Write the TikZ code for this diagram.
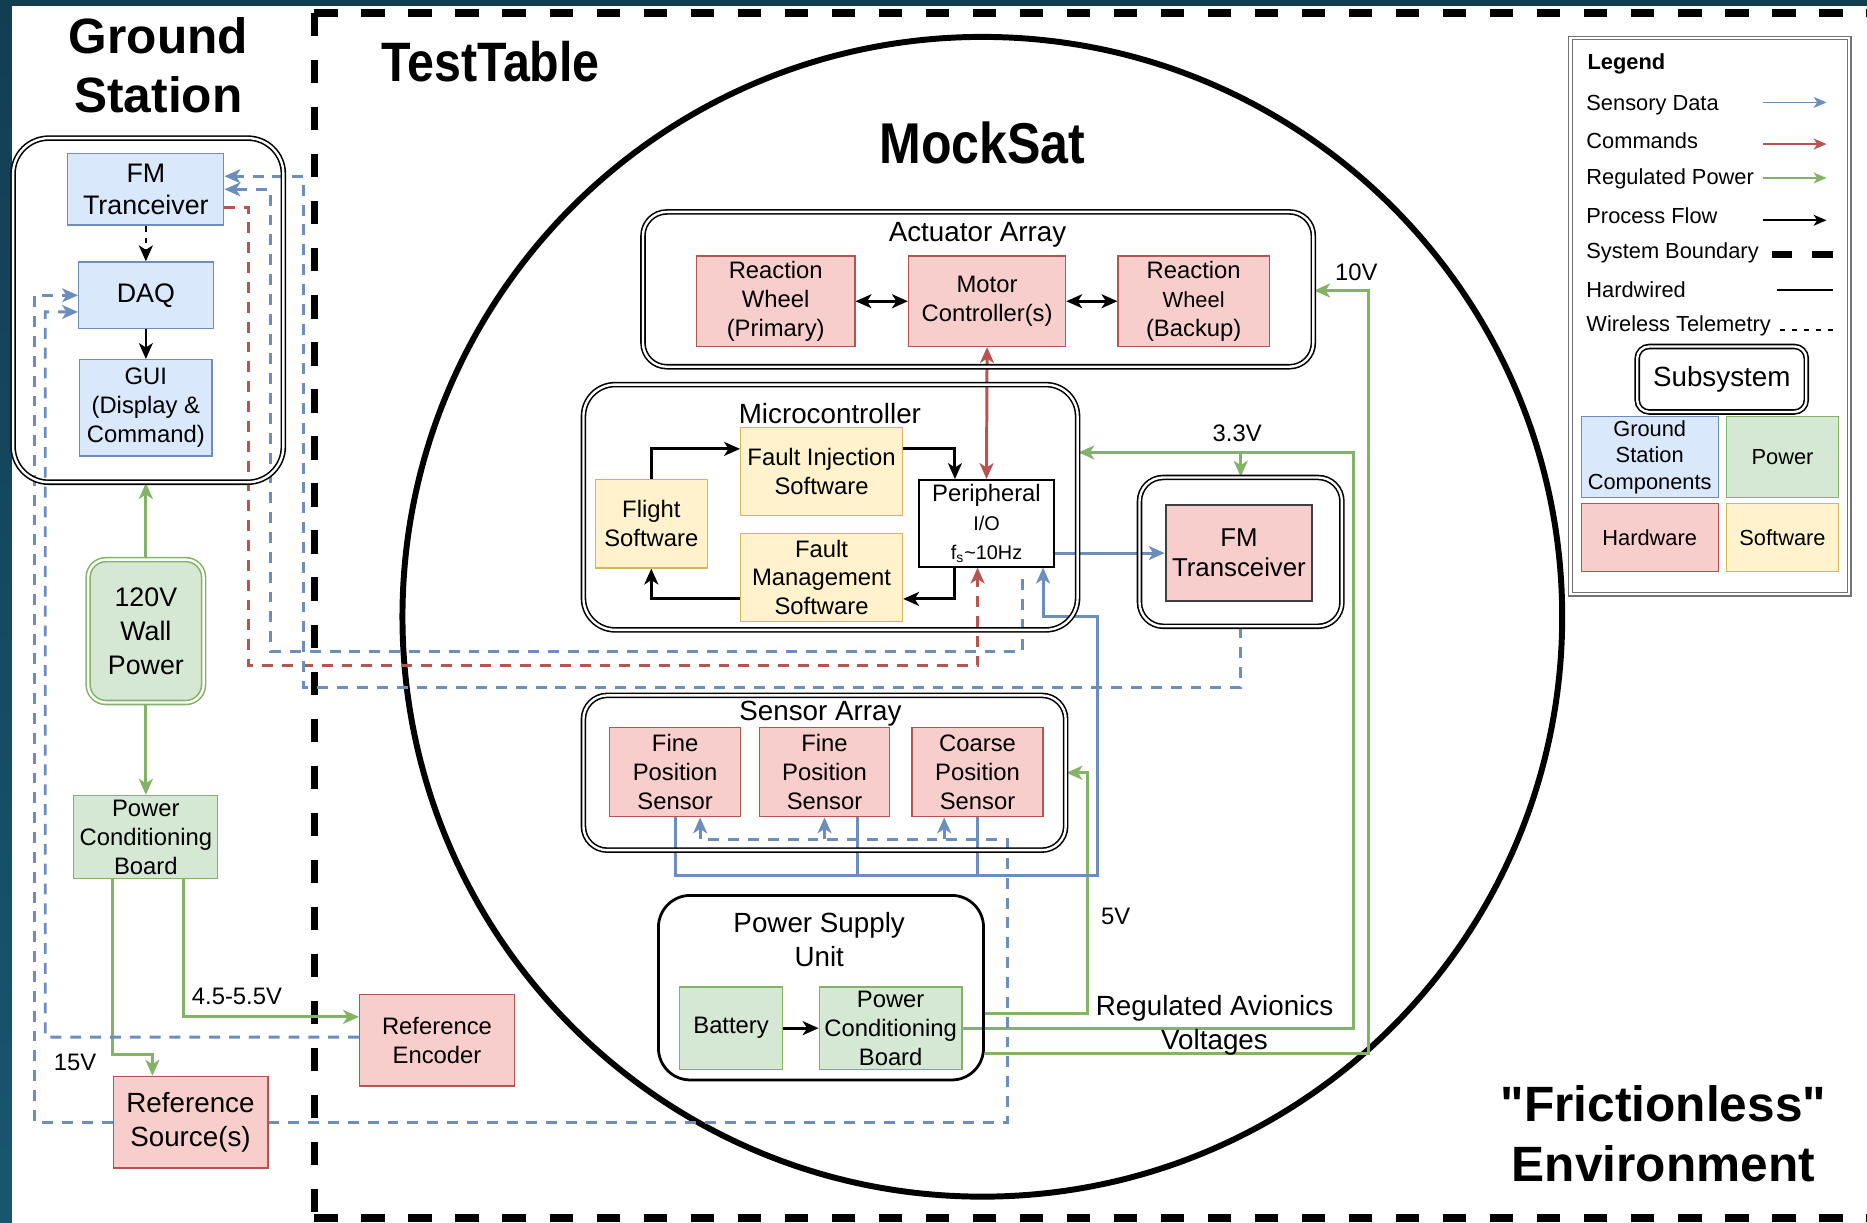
\documentclass[tikz,border=0pt]{standalone}
\usepackage{fontspec}
\setmainfont{Liberation Sans}
\newfontfamily\narrowfont[FakeStretch=0.87]{Liberation Sans}
\usetikzlibrary{arrows.meta}

\definecolor{gsfill}{HTML}{DAE8FC}
\definecolor{gsline}{HTML}{6C8EBF}
\definecolor{pwfill}{HTML}{D5E8D4}
\definecolor{pwline}{HTML}{82B366}
\definecolor{hwfill}{HTML}{F8CECC}
\definecolor{hwline}{HTML}{B85450}
\definecolor{swfill}{HTML}{FFF2CC}
\definecolor{swline}{HTML}{D6B656}
\definecolor{stripetop}{RGB}{18,62,84}
\definecolor{stripebot}{RGB}{24,86,112}

\pgfdeclarelayer{back}
\pgfdeclarelayer{wires}
\pgfsetlayers{back,wires,main}

\tikzset{
  box/.style={draw, align=center, inner sep=0.5pt, line width=0.6pt,
    font=\fontsize{12}{14.6}\selectfont},
  gsc/.style={box, fill=gsfill, draw=gsline},
  hw/.style={box, fill=hwfill, draw=hwline},
  pw/.style={box, fill=pwfill, draw=pwline},
  sw/.style={box, fill=swfill, draw=swline},
  sz/.style 2 args={minimum width=#1*0.6pt, minimum height=#2*0.6pt},
  subsys/.style={draw, line width=0.8pt, double, double distance=1.2pt,
    rounded corners=#1},
  subsys/.default=12pt,
  lbl/.style={font=\fontsize{12}{14.5}\selectfont, inner sep=0pt, align=center},
  head/.style={font=\fontsize{14}{17}\selectfont, inner sep=0pt, align=center},
  title/.style={font=\fontsize{25}{30}\selectfont\bfseries, inner sep=0pt,
    align=center},
  legtxt/.style={font=\fontsize{11}{13}\selectfont, inner sep=0pt, anchor=west},
  tip/.style={-{Stealth[length=8pt,width=7pt,inset=2.2pt]}},
  dtip/.style={{Stealth[length=8pt,width=7pt,inset=2.2pt]}-{Stealth[length=8pt,width=7pt,inset=2.2pt]}},
  wire/.style={line width=1.5pt},
  sdata/.style={wire, draw=gsline},
  cmd/.style={wire, draw=hwline},
  pwr/.style={wire, draw=pwline},
  flow/.style={wire, draw=black},
  wl/.style={dash pattern=on 5.5pt off 4.5pt},
  legline/.style={line width=0.9pt, -{Stealth[length=6.5pt,width=5.5pt,inset=1.8pt]}}
}

\begin{document}
\begin{tikzpicture}[x=0.6pt,y=-0.6pt]
\useasboundingbox (0,0) rectangle (1568,1027);

\begin{pgfonlayer}{back}
  % page and frame
  \fill[white] (0,0) rectangle (1568,1027);
  \fill[stripetop] (0,0) rectangle (1568,5);
  \shade[top color=stripetop, bottom color=stripebot] (0,0) rectangle (10,1027);
  % system boundary
  \draw[line width=3.8pt, dash pattern=on 11.7pt off 12pt] (264,11) -- (264,1023);
  \draw[line width=3.8pt, dash pattern=on 11.7pt off 12pt] (264,11) -- (1620,11);
  \draw[line width=3.8pt, dash pattern=on 11.7pt off 12pt] (264,1023) -- (1620,1023);
  % MockSat hull
  \draw[line width=3pt] (825,518) circle [radius=292.2pt];
\end{pgfonlayer}

% titles
\node[title] (gstitle) at (133,55) {Ground\\Station};
\node[font=\fontsize{28}{30}\narrowfont\bfseries, inner sep=0pt] (tttitle) at (412,52) {TestTable};
\node[font=\fontsize{29}{32}\narrowfont\bfseries, inner sep=0pt] (mstitle) at (825,120) {MockSat};
\node[title] (envtitle) at (1397,952) {\textquotedbl Frictionless\textquotedbl\\Environment};

% ground station
\node[subsys=18pt, sz={227}{289}] (gsbox) at (124.5,260.5) {};
\node[gsc, sz={131}{60}, font=\fontsize{13.5}{16.2}\selectfont] (fmgs) at (122.5,159) {FM\\Tranceiver};
\node[gsc, sz={113}{56}, font=\fontsize{13.5}{16.2}\selectfont] (daq) at (122.5,248) {DAQ};
\node[gsc, sz={111}{81}] (gui) at (122.5,342.5) {GUI\\(Display \&\\Command)};
\node[pw, sz={97}{120}, double, double distance=1.2pt, line width=0.8pt,
  rounded corners=9pt, font=\fontsize{13.5}{17}\selectfont] (wall) at (122.5,530) {120V\\Wall\\Power};
\node[pw, sz={121}{70}] (pcbgs) at (122.5,703) {Power\\Conditioning\\Board};
\node[hw, sz={130}{77}] (refenc) at (367,873.5) {Reference\\Encoder};
\node[hw, sz={130}{77}, font=\fontsize{14}{16.8}\selectfont] (refsrc) at (160,942.5) {Reference\\Source(s)};
\node[lbl] (v45lbl) at (199,837) {4.5-5.5V};
\node[lbl] (v15lbl) at (63,892) {15V};

% actuator array
\node[subsys, sz={563}{130}] (act) at (821.5,243) {};
\node[head] (actlbl) at (821,197) {Actuator Array};
\node[hw, sz={133}{76}] (rwp) at (651.5,253) {Reaction\\Wheel\\(Primary)};
\node[hw, sz={132}{76}] (mc) at (829,253) {Motor\\Controller(s)};
\node[hw, sz={127}{76}] (rwb) at (1002.5,253) {Reaction\\{\fontsize{11}{14.6}\selectfont Wheel}\\(Backup)};

% microcontroller
\node[subsys=16pt, sz={415}{206}] (micro) at (697.5,426) {};
\node[head] (microlbl) at (697,347) {Microcontroller};
\node[sw, sz={94}{74}] (fsw) at (547,440) {Flight\\Software};
\node[sw, sz={136}{74}] (fis) at (690,396) {Fault Injection\\Software};
\node[sw, sz={136}{74}] (fms) at (690,485) {Fault\\Management\\Software};
\node[box, fill=white, draw=black, line width=0.8pt, sz={113}{73}] (peri) at (828.5,439.5)
  {Peripheral\\{\fontsize{10}{12}\selectfont I/O}\\{\fontsize{10}{12}\selectfont f\textsubscript{s}\textasciitilde10Hz}};

% fm transceiver
\node[subsys, sz={170}{125}] (fmsub) at (1042,463.5) {};
\node[hw, draw=black!75, line width=1pt, sz={123}{81}, font=\fontsize{13}{15}\selectfont] (fmsat) at (1040.5,464.5) {FM\\Transceiver};

% sensor array
\node[subsys, sz={405}{130}] (sens) at (692.5,649) {};
\node[head] (senslbl) at (689,599) {Sensor Array};
\node[hw, sz={110}{75}] (fps1) at (567,648.5) {Fine\\Position\\Sensor};
\node[hw, sz={109}{75}] (fps2) at (692.5,648.5) {Fine\\Position\\Sensor};
\node[hw, sz={110}{75}] (cps) at (821,648.5) {Coarse\\Position\\Sensor};

% power supply
\node[draw, line width=1.4pt, rounded corners=16pt, sz={273}{155}] (psu) at (689.5,829.5) {};
\node[head] (psulbl) at (688,789) {Power Supply\\Unit};
\node[pw, sz={86}{69}] (bat) at (614,863.5) {Battery};
\node[pw, sz={120}{69}, inner sep=0pt] (pcbsat) at (748,863.5) {Power\\Conditioning\\Board};
\node[lbl] (v33lbl) at (1039,364) {3.3V};
\node[lbl] (v10lbl) at (1139,229) {10V};
\node[lbl] (v5lbl) at (937,770) {5V};
\node[head, font=\fontsize{14}{16.8}\selectfont] (ravlbl) at (1020,861) {Regulated Avionics\\Voltages};

% legend
\node[draw=black!55, double, double distance=1.2pt, line width=0.6pt, sz={234}{467}] (legend) at (1436,265.5) {};
\node[font=\fontsize{11}{13}\selectfont\bfseries, inner sep=0pt, anchor=west] (leghead) at (1333,54) {Legend};
\foreach \nm/\yy/\txt in {lsd/88/Sensory Data, lcm/118/Commands, lrp/150/Regulated Power,
    lpf/181/Process Flow, lsb/212/System Boundary, lhw/243/Hardwired, lwt/274/Wireless Telemetry}
  \node[legtxt] (\nm) at (1332,\yy) {\txt};
\draw[legline, draw=gsline] (1481,86) -- (1534,86);
\draw[legline, draw=hwline] (1481,121) -- (1534,121);
\draw[legline, draw=pwline] (1481,149.5) -- (1534,149.5);
\draw[legline, draw=black] (1481,185) -- (1534,185);
\draw[line width=3.6pt] (1488,214) -- (1505,214);
\draw[line width=3.6pt] (1522,214) -- (1539,214);
\draw[line width=0.9pt] (1492,243.6) -- (1539,243.6);
\draw[line width=0.8pt, dash pattern=on 2.6pt off 3.4pt] (1495,277) -- (1540,277);
\node[subsys=6pt, sz={142}{55}, font=\fontsize{14}{17}\selectfont] (legsub) at (1446,318.5) {Subsystem};
\node[gsc, sz={115}{68}, font=\fontsize{11}{13.5}\selectfont] (leggs) at (1385.5,384) {Ground\\Station\\Components};
\node[pw, sz={94}{68}, font=\fontsize{11}{13.5}\selectfont] (legpw) at (1497,384) {Power};
\node[hw, sz={115}{57}, font=\fontsize{11}{13.5}\selectfont] (leghw) at (1385.5,451.5) {Hardware};
\node[sw, sz={94}{57}, font=\fontsize{11}{13.5}\selectfont] (legsw) at (1497,451.5) {Software};

\begin{pgfonlayer}{wires}
  % ground power
  \draw[pwr, tip] (wall.north) -- (wall.north |- gsbox.south);
  \draw[pwr, tip] (wall.south) -- (pcbgs.north);
  \draw[pwr, tip] (pcbgs.south -| refsrc.west) -- ++(0,147) -| ([xshift=-19.2pt]refsrc.north);
  \draw[pwr, tip] ([xshift=18.9pt]pcbgs.south) |- ([yshift=11.7pt]refenc.west);
  % regulated avionics voltages
  \coordinate (v33) at (1137,380);
  \coordinate (v10) at (1149,244);
  \coordinate (v5) at (913,851);
  \draw[pwr, tip] (psu.east |- v5) -- (v5) |- (sens.east);
  \draw[pwr, tip] (pcbsat.east) -| (v33) -- (v33 -| micro.east);
  \draw[pwr, tip] (v33 -| fmsub.north) -- (fmsub.north);
  \draw[pwr, tip] ([yshift=-33pt]psu.east) -| (v10) -- (v10 -| act.east);
  % commands
  \draw[cmd, dtip] (mc.south) -- (peri.north);
  \draw[cmd, wl, tip] ([yshift=-9pt]fmgs.east) -| (209,559) -| ([xshift=-4.5pt]peri.south);
  % sensory data, hardwired
  \coordinate (bus) at (922,735);
  \coordinate (busup) at (876,518);
  \draw[sdata, tip] (fps1.south) |- (bus) |- (busup) -- (busup |- peri.south);
  \draw[sdata] ([xshift=16.5pt]fps2.south) -- ++(0,49);
  \draw[sdata] (cps.south) -- ++(0,49);
  \draw[sdata, tip] (peri.east |- fmsat.west) -- (fmsat.west);
  % sensory data, wireless
  \draw[sdata, wl, tip] (fmsub.south) |- (255,577) |- ([yshift=6.6pt]fmgs.east);
  \draw[sdata, wl, tip] ([shift={(18.3pt,-6pt)}]peri.south) |- (227,547) |- (fmgs.east);
  \draw[sdata, wl, tip] ([yshift=1.5pt]refenc.west) -| (38,262) -- ([yshift=-8.4pt]daq.west);
  \draw[sdata, wl, tip] (refsrc.west) -| (29,248) -- (daq.west);
  \coordinate (sbus) at (846,705);
  \coordinate (fps1in) at ([xshift=12.6pt]fps1.south);
  \coordinate (cpsin) at ([xshift=-16.8pt]cps.south);
  \draw[sdata, wl, tip] (refsrc.east) -| (sbus) -| (fps1in);
  \draw[sdata, wl, tip] (sbus -| fps2.south) -- (fps2.south);
  \draw[sdata, wl, tip] (sbus -| cpsin) -- (cpsin);
  % process flow
  \draw[flow, tip] (fsw.north) |- ([yshift=11.4pt]fis.west);
  \draw[flow, tip] ([yshift=11.4pt]fis.east) -| ([xshift=-15.9pt]peri.north);
  \draw[flow, tip] ([xshift=-15.9pt]peri.south) |- ([yshift=-10.8pt]fms.east);
  \draw[flow, tip] ([yshift=-10.8pt]fms.west) -| (fsw.south);
  \draw[flow, dtip] (rwp) -- (mc);
  \draw[flow, dtip] (mc) -- (rwb);
  \draw[flow, tip] (bat) -- (pcbsat);
  \draw[flow, tip, line width=1.2pt, dash pattern=on 3pt off 3pt] (fmgs) -- (daq);
  \draw[flow, tip, line width=1.2pt] (daq) -- (gui);
\end{pgfonlayer}
\end{tikzpicture}
\end{document}
